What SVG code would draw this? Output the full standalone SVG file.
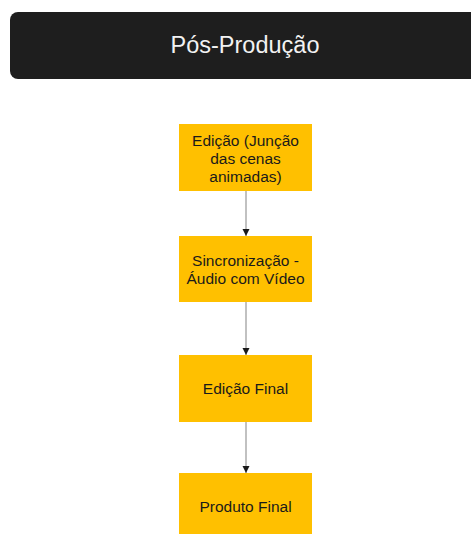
<svg xmlns="http://www.w3.org/2000/svg" width="471" height="534" viewBox="0 0 471 534">
<style>
.box{fill:#ffc000;}
.t{font-family:"Liberation Sans",Arial,sans-serif;font-size:15.5px;fill:#1a1a1a;text-anchor:middle;}
.h{font-family:"Liberation Sans",Arial,sans-serif;font-size:23.5px;fill:#f2f2f2;text-anchor:middle;}
.c{stroke:#a0a0a0;stroke-width:1.3;fill:none;marker-end:url(#ah);}
</style>
<defs>
<marker id="ah" markerWidth="8" markerHeight="8" refX="7" refY="4" orient="auto" markerUnits="userSpaceOnUse">
<path d="M0,0.5 L7,4 L0,7.5 Z" fill="#1a1a1a"/>
</marker>
</defs>
<rect width="471" height="534" fill="#ffffff"/>
<g id="header">
<rect x="10" y="12" width="475" height="67" rx="8" fill="#1e1e1e"/>
<text class="h" x="245" y="53">Pós-Produção</text>
</g>
<g id="connectors">
<line class="c" x1="246" y1="191" x2="246" y2="236"/>
<line class="c" x1="246" y1="302" x2="246" y2="355"/>
<line class="c" x1="246" y1="422" x2="246" y2="473"/>
</g>
<g id="n1">
<rect class="box" x="179" y="124" width="133" height="67"/>
<text class="t" x="245.5" y="146">Edição (Junção</text>
<text class="t" x="245.5" y="164">das cenas</text>
<text class="t" x="245.5" y="182">animadas)</text>
</g>
<g id="n2">
<rect class="box" x="179" y="236" width="133" height="66"/>
<text class="t" x="245.5" y="266">Sincronização -</text>
<text class="t" x="245.5" y="284">Áudio com Vídeo</text>
</g>
<g id="n3">
<rect class="box" x="179" y="355" width="133" height="67"/>
<text class="t" x="245.5" y="394">Edição Final</text>
</g>
<g id="n4">
<rect class="box" x="179" y="473" width="133" height="67"/>
<text class="t" x="245.5" y="512">Produto Final</text>
</g>
</svg>
